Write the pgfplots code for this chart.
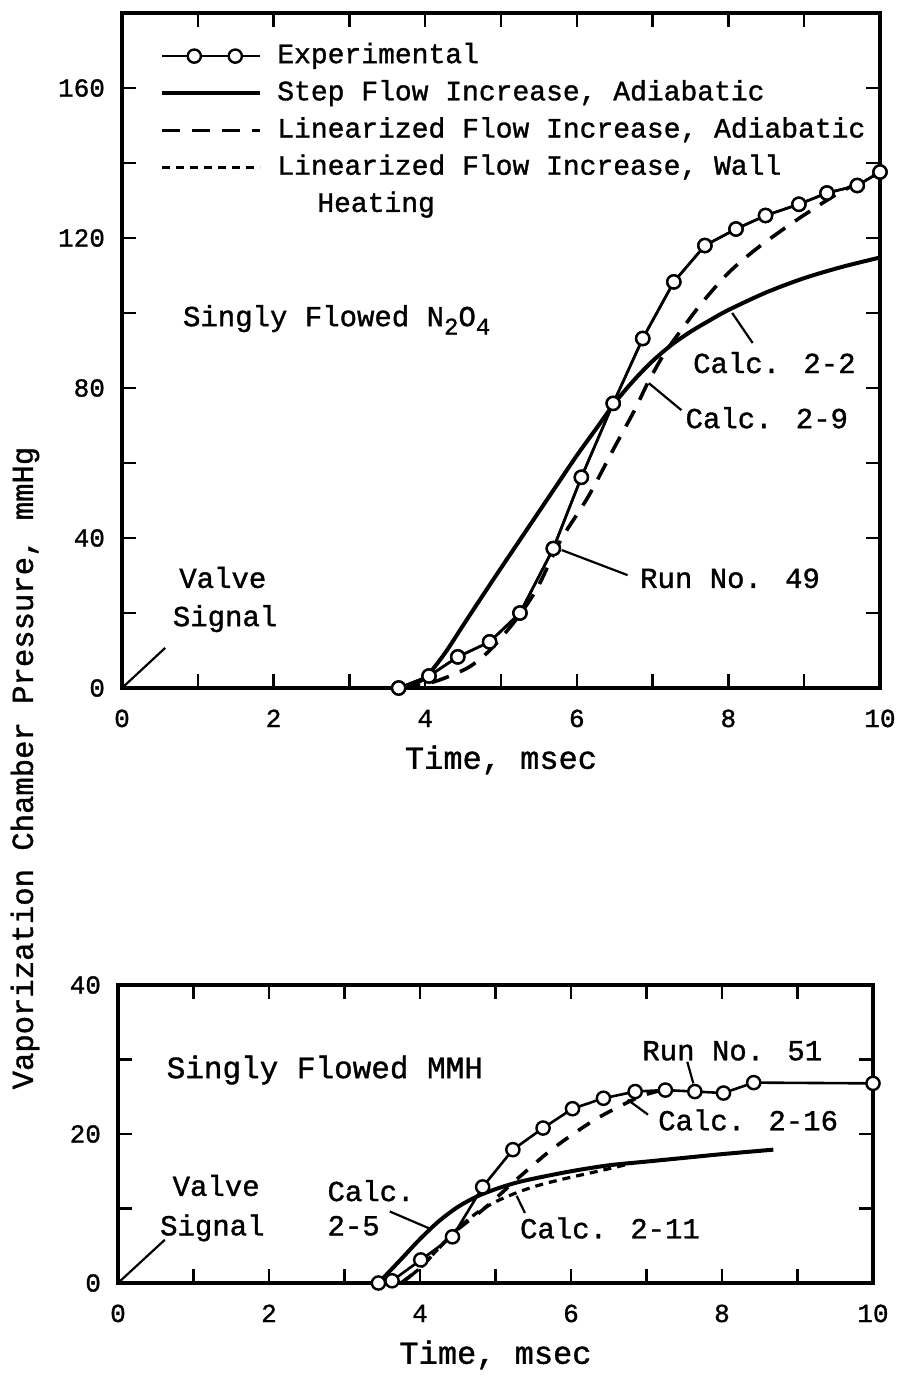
\documentclass[border=0pt]{standalone}
\usepackage{fontspec}
\setmainfont{Liberation Mono}[FakeBold=1.2]
\usepackage{pgfplots}
\pgfplotsset{compat=1.18}
\newcommand{\fs}[1]{\fontsize{#1}{#1}\selectfont}
\tikzset{
  ann/.style={font=\fs{14.5}, inner sep=0pt},
  lead/.style={black, line width=1.1pt},
}
\pgfplotsset{
  common/.style={
    scale only axis, xmin=0, xmax=10, ymin=0,
    axis line style={line width=1.7pt},
    every tick/.style={line width=1.2pt, black},
    major tick length=7pt, minor tick length=7pt,
    tick align=inside,
    xtick={0,2,...,10}, minor x tick num=1,
    minor y tick num=1,
    ticklabel style={font=\fs{13}},
    /pgf/number format/assume math mode=true,
    xticklabel style={anchor=base, yshift=-19.5pt},
    yticklabel style={anchor=east, xshift=-5pt},
    xlabel={Time, msec},
    xlabel style={font=\fs{16}, at={(axis description cs:0.5,0)}, anchor=center, yshift=-36pt},
    clip=false,
  },
  linelegend/.style={legend image code/.code={\draw[##1] (0pt,0pt) -- (49pt,0pt);}},
  explegend/.style={legend image code/.code={\draw[##1, mark indices={2,3}] plot coordinates {(0pt,0pt) (16pt,0pt) (36.5pt,0pt) (49pt,0pt)};}},
  exp/.style={black, line width=1.3pt, mark=*, mark size=3.3pt, mark options={fill=white, draw=black, line width=1.2pt, solid}},
  calcsolid/.style={black, line width=2pt, smooth, tension=0.5},
  calcdash/.style={black, line width=1.8pt, dash pattern=on 9pt off 6pt, smooth, tension=0.5},
  calcshort/.style={black, line width=1.6pt, dash pattern=on 4pt off 3pt, smooth, tension=0.5},
}
\begin{document}
\begin{tikzpicture}[x=1pt,y=1pt]
\path[use as bounding box] (0,0) rectangle (450.5,-689);
\node[rotate=90, font=\fs{15.3}] at (12.5,-384) {Vaporization Chamber Pressure, mmHg};

% ---------------- top panel -----------------
\begin{axis}[common, at={(61pt,-344pt)}, anchor=south west,
  width=379pt, height=337.5pt, ymax=180,
  ytick={0,40,...,160},
  linelegend,
  legend style={draw=none, fill=none, at={(rel axis cs:0.05,0.956)}, anchor=north west,
    font=\fs{14}, inner sep=0pt, row sep=5.6pt, column sep=7.5pt,
    nodes={inner sep=0pt, text height=10pt, text depth=3pt}},
  legend cell align=left,
]
\addplot[exp, explegend]
  coordinates {(3.65,0) (4.05,3.2) (4.43,8.3) (4.85,12.3) (5.25,20) (5.69,37.2) (6.06,56.2) (6.48,75.9) (6.87,93.2) (7.28,108.3) (7.69,118) (8.1,122.4) (8.49,126) (8.93,129) (9.3,132) (9.7,134) (10,137.6)};
\addlegendentry{Experimental}
\addplot[calcsolid] coordinates {(3.75,0) (4.0,2.8) (4.25,9) (4.5,16.7) (4.75,24.4) (5.0,32) (5.25,39.5) (5.5,47) (5.75,54.5) (6.0,62) (6.25,69) (6.5,76) (6.75,82) (7.0,87.2) (7.25,91.5) (7.5,95) (7.75,98) (8.0,100.8) (8.5,105.5) (9.0,109.3) (9.5,112.3) (10,114.8)};
\addlegendentry{Step Flow Increase, Adiabatic}
\addplot[calcdash] coordinates {(3.7,0) (4.0,1) (4.25,2.6) (4.58,5.6) (4.85,10) (5.09,15.5) (5.3,21) (5.5,27.5) (5.79,39.5) (6.15,51) (6.5,64.3) (6.76,74) (6.94,81.5) (7.15,89) (7.38,95.5) (7.65,102.7) (8.0,110.7) (8.35,116.8) (8.77,123) (9.14,128) (9.5,132.5) (10,137.5)};
\addlegendentry{Linearized Flow Increase, Adiabatic}
\addlegendimage{calcshort}
\addlegendentry{Linearized Flow Increase, Wall}
\addlegendimage{empty legend}
\addlegendentry{\hspace{20pt}Heating}
% replot experimental on top
\addplot[exp, forget plot] coordinates {(3.65,0) (4.05,3.2) (4.43,8.3) (4.85,12.3) (5.25,20) (5.69,37.2) (6.06,56.2) (6.48,75.9) (6.87,93.2) (7.28,108.3) (7.69,118) (8.1,122.4) (8.49,126) (8.93,129) (9.3,132) (9.7,134) (10,137.6)};

\draw[lead] (0,0) -- (0.57,10.7);
\node[ann, anchor=base] at (1.33,26.7) {Valve};
\node[ann, anchor=base] at (1.36,16.5) {Signal};
\node[ann, anchor=base west] at (0.80,96.5) {Singly Flowed N\raisebox{-0.55ex}{\fs{12}2}O\raisebox{-0.55ex}{\fs{12}4}};
\node[ann, anchor=base west] at (7.53,84) {Calc. 2-2};
\draw[lead] (8.05,100) -- (8.32,92);
\node[ann, anchor=base west] at (7.43,69.3) {Calc. 2-9};
\draw[lead] (6.95,81.3) -- (7.38,74.1);
\node[ann, anchor=base west] at (6.83,26.7) {Run No. 49};
\draw[lead] (5.8,36.8) -- (6.67,30.1);
\end{axis}

% ---------------- bottom panel -----------------
\begin{axis}[common, at={(59pt,-641.5pt)}, anchor=south west,
  width=377.5pt, height=149pt, ymax=40,
  ytick={0,20,40},
]
\addplot[calcsolid] coordinates {(3.45,0) (3.75,3.2) (4.0,5.9) (4.25,8.3) (4.5,10.2) (4.75,11.6) (5.0,12.6) (5.25,13.4) (5.5,14.0) (6.0,15) (6.5,15.8) (7.0,16.3) (7.5,16.8) (8.0,17.3) (8.68,17.9)};
\addplot[calcshort] coordinates {(3.75,0) (4.0,2) (4.25,4.7) (4.5,7.3) (4.75,9.4) (5.0,10.9) (5.25,12.0) (5.5,12.9) (5.75,13.6) (6.0,14.2) (6.4,15.1) (6.8,16.05)};
\addplot[calcdash, dash pattern=on 7pt off 6pt] coordinates {(3.75,0) (4.0,2) (4.25,4.7) (4.5,7.2) (4.84,9.9) (5.28,13.9) (5.68,17.4) (6.0,19.8) (6.38,22.3) (6.91,25) (7.25,26)};
\addplot[exp] coordinates {(3.45,0) (3.63,0.3) (4.01,3.1) (4.43,6.2) (4.83,12.9) (5.23,17.9) (5.63,20.8) (6.02,23.4) (6.43,24.8) (6.85,25.7) (7.25,25.9) (7.64,25.7) (8.02,25.5) (8.42,26.9) (10,26.8)};

\draw[lead] (0,0) -- (0.62,5.8);
\node[ann, anchor=base] at (1.30,11.7) {Valve};
\node[ann, anchor=base] at (1.25,6.4) {Signal};
\node[ann, anchor=base west, font=\fs{15.5}] at (0.64,27.5) {Singly Flowed MMH};
\node[ann, anchor=base west] at (2.77,11.0) {Calc.};
\node[ann, anchor=base west] at (2.77,6.4) {2-5};
\draw[lead] (3.6,9.6) -- (4.13,7.3);
\node[ann, anchor=base west] at (5.32,6.0) {Calc. 2-11};
\draw[lead] (5.28,11.7) -- (5.39,9.4);
\node[ann, anchor=base west] at (7.15,20.5) {Calc. 2-16};
\draw[lead] (6.75,24.6) -- (7.02,22.6);
\node[ann, anchor=base west] at (6.94,29.9) {Run No. 51};
\draw[lead] (7.54,29.7) -- (7.62,26.8);
\end{axis}
\end{tikzpicture}
\end{document}
